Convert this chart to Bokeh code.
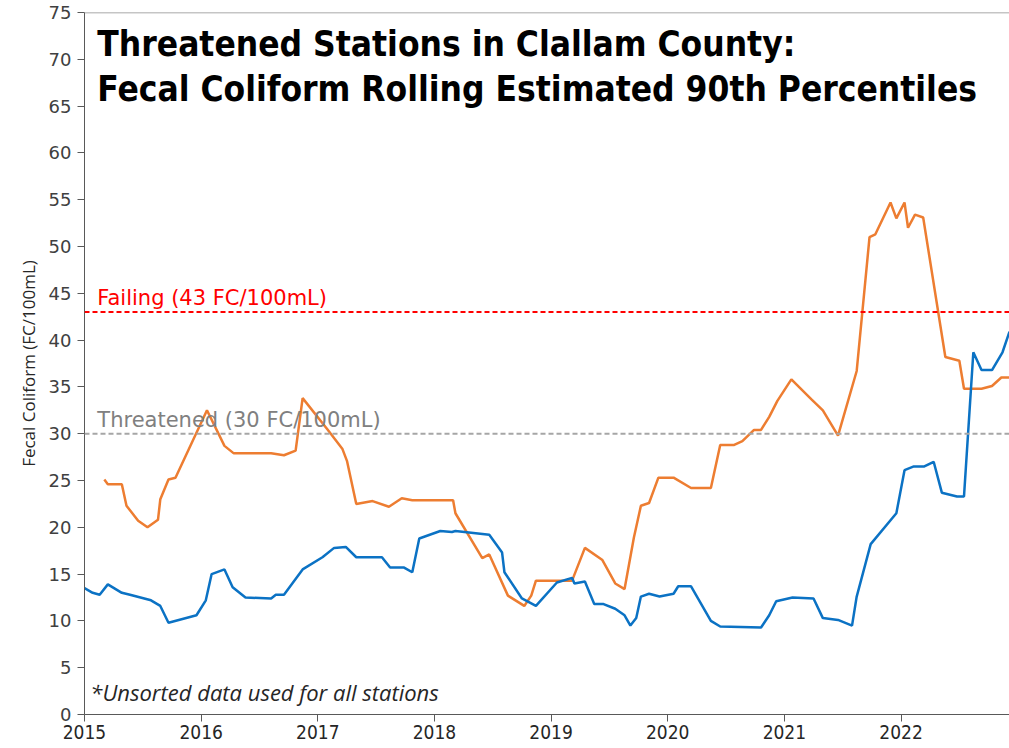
from bokeh.plotting import figure
from bokeh.models import Span, Label, FixedTicker
from bokeh.embed import file_html
from bokeh.resources import INLINE

# ---- data (decimal years, FC/100mL) ----
orange_x = [2015.17, 2015.20, 2015.32, 2015.36, 2015.46, 2015.54, 2015.63, 2015.65, 2015.72, 2015.78,
            2016.05, 2016.20, 2016.28, 2016.60, 2016.71, 2016.81, 2016.87, 2017.08, 2017.21, 2017.25,
            2017.33, 2017.47, 2017.61, 2017.72, 2017.81, 2018.16, 2018.18, 2018.41, 2018.47, 2018.63,
            2018.77, 2018.83, 2018.87, 2019.18, 2019.29, 2019.44, 2019.55, 2019.63, 2019.71, 2019.77,
            2019.84, 2019.92, 2020.05, 2020.20, 2020.37, 2020.45, 2020.57, 2020.64, 2020.74, 2020.80,
            2020.87, 2020.94, 2021.06, 2021.23, 2021.33, 2021.46, 2021.62, 2021.73, 2021.78, 2021.91,
            2021.96, 2022.03, 2022.06, 2022.12, 2022.19, 2022.38, 2022.50, 2022.54, 2022.69, 2022.78,
            2022.86, 2022.93]
orange_y = [25.1, 24.6, 24.6, 22.3, 20.7, 20.0, 20.8, 23.0, 25.1, 25.3,
            32.5, 28.7, 27.9, 27.9, 27.7, 28.2, 33.8, 30.5, 28.4, 27.1,
            22.5, 22.8, 22.2, 23.1, 22.9, 22.9, 21.5, 16.7, 17.1, 12.7,
            11.6, 12.7, 14.3, 14.3, 17.8, 16.5, 14.0, 13.4, 18.9, 22.3,
            22.6, 25.3, 25.3, 24.2, 24.2, 28.8, 28.8, 29.2, 30.4, 30.4,
            31.8, 33.5, 35.8, 33.7, 32.5, 29.8, 36.7, 51.0, 51.3, 54.7,
            53.0, 54.7, 52.0, 53.4, 53.1, 38.2, 37.8, 34.8, 34.8, 35.1,
            36.0, 36.0]

blue_x = [2015.00, 2015.07, 2015.13, 2015.20, 2015.32, 2015.39, 2015.57, 2015.65, 2015.72, 2015.96,
          2016.04, 2016.09, 2016.20, 2016.27, 2016.38, 2016.60, 2016.64, 2016.71, 2016.87, 2017.04,
          2017.14, 2017.24, 2017.33, 2017.55, 2017.62, 2017.74, 2017.81, 2017.87, 2018.05, 2018.15,
          2018.18, 2018.47, 2018.58, 2018.60, 2018.75, 2018.87, 2019.05, 2019.18, 2019.20, 2019.29,
          2019.37, 2019.45, 2019.55, 2019.63, 2019.68, 2019.73, 2019.77, 2019.84, 2019.93, 2020.05,
          2020.09, 2020.20, 2020.37, 2020.45, 2020.80, 2020.87, 2020.93, 2021.07, 2021.25, 2021.33,
          2021.46, 2021.58, 2021.62, 2021.74, 2021.96, 2022.03, 2022.11, 2022.20, 2022.28, 2022.35,
          2022.48, 2022.54, 2022.62, 2022.69, 2022.78, 2022.87, 2022.93]
blue_y = [13.5, 13.0, 12.8, 13.9, 13.0, 12.8, 12.2, 11.6, 9.8, 10.6,
          12.2, 15.0, 15.5, 13.6, 12.5, 12.4, 12.8, 12.8, 15.5, 16.8,
          17.8, 17.9, 16.8, 16.8, 15.7, 15.7, 15.2, 18.8, 19.6, 19.5,
          19.6, 19.2, 17.3, 15.2, 12.4, 11.6, 14.1, 14.6, 14.0, 14.2,
          11.8, 11.8, 11.3, 10.6, 9.5, 10.3, 12.6, 12.9, 12.6, 12.9,
          13.7, 13.7, 10.0, 9.4, 9.3, 10.6, 12.1, 12.5, 12.4, 10.3,
          10.1, 9.5, 12.6, 18.2, 21.5, 26.1, 26.5, 26.5, 27.0, 23.7,
          23.3, 23.3, 38.7, 36.8, 36.8, 38.7, 40.9]

year_ticks = [2015, 2016, 2017, 2018, 2019, 2020, 2021, 2022]
y_ticks = list(range(0, 80, 5))
failing_level = 43
threatened_level = 30
title_lines = ["Threatened Stations in Clallam County:",
               "Fecal Coliform Rolling Estimated 90th Percentiles"]
failing_text = "Failing (43 FC/100mL)"
threatened_text = "Threatened (30 FC/100mL)"
footnote = "*Unsorted data used for all stations"
y_label = "Fecal Coliform (FC/100mL)"

p = figure(width=1009, height=748, output_backend="svg", toolbar_location=None,
           x_range=(2015, 2022.93), y_range=(0, 75),
           min_border_left=84, min_border_right=0, min_border_top=12, min_border_bottom=34)
p.outline_line_color = None
p.grid.visible = False
p.background_fill_color = "white"
p.border_fill_color = "white"

# axes
p.xaxis.ticker = FixedTicker(ticks=year_ticks)
p.yaxis.ticker = FixedTicker(ticks=y_ticks)
for ax in (p.xaxis[0], p.yaxis[0]):
    ax.axis_line_color = "#595959"
    ax.axis_line_width = 1
    ax.major_tick_line_color = "#595959"
    ax.minor_tick_line_color = None
    ax.major_tick_in = 0
    ax.major_tick_out = 7
p.xaxis.major_label_text_font = "DejaVu Sans Condensed"
p.xaxis.major_label_text_font_size = "19px"
p.xaxis.major_label_text_color = "#262626"
p.xaxis.major_label_standoff = 3
p.yaxis.major_label_text_font = "DejaVu Sans"
p.yaxis.major_label_text_font_size = "18px"
p.yaxis.major_label_text_color = "#404040"
p.yaxis.major_label_standoff = 6
p.yaxis.axis_label = y_label
p.yaxis.axis_label_text_font = "Open Sans"
p.yaxis.axis_label_text_font_style = "normal"
p.yaxis.axis_label_text_font_size = "17px"
p.yaxis.axis_label_text_color = "#262626"
p.yaxis.axis_label_standoff = 6

# top border
p.add_layout(Span(location=75, dimension="width", line_color="#8c8c8c", line_width=1.5))

# reference lines
p.add_layout(Span(location=failing_level, dimension="width", line_color="#FF0000",
                  line_width=2, line_dash="5 3"))
p.add_layout(Span(location=threatened_level, dimension="width", line_color="#A6A6A6",
                  line_width=2, line_dash="5 3"))

# series
p.line(orange_x, orange_y, line_color="#ED7D31", line_width=2.5)
p.line(blue_x, blue_y, line_color="#0B72C4", line_width=2.5)

# texts
title_font = "DejaVu Sans Condensed"
p.add_layout(Label(x=2015.11, y=73.8, text=title_lines[0], text_font=title_font,
                   text_font_style="bold", text_font_size="35px", text_color="black",
                   text_baseline="top"))
p.add_layout(Label(x=2015.11, y=69.0, text=title_lines[1], text_font=title_font,
                   text_font_style="bold", text_font_size="35px", text_color="black",
                   text_baseline="top"))
p.add_layout(Label(x=2015.11, y=failing_level + 0.2, text=failing_text, text_font="DejaVu Sans",
                   text_font_size="21px", text_color="#FF0000", text_baseline="bottom"))
p.add_layout(Label(x=2015.11, y=threatened_level + 0.2, text=threatened_text, text_font="DejaVu Sans",
                   text_font_size="21px", text_color="#808080", text_baseline="bottom"))
p.add_layout(Label(x=2015.05, y=0.8, text=footnote, text_font="Open Sans",
                   text_font_style="italic", text_font_size="22px", text_color="#262626",
                   text_baseline="bottom"))

open("out.html", "w").write(file_html(p, INLINE))
